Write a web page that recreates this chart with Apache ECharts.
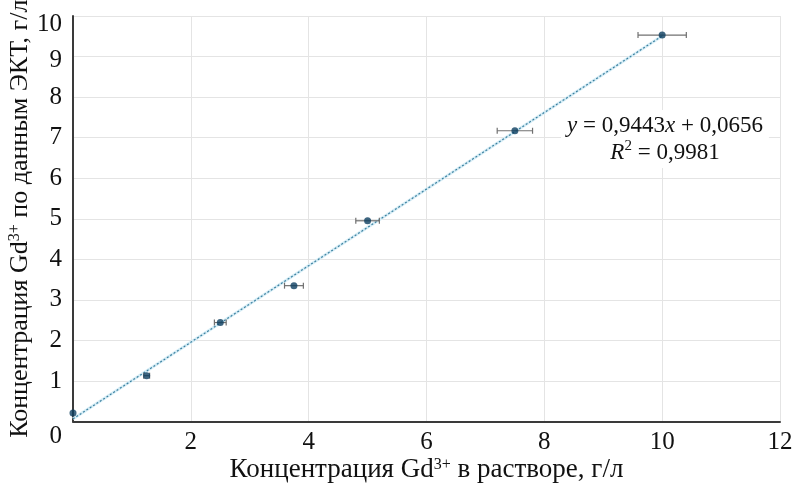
<!DOCTYPE html>
<html>
<head>
<meta charset="utf-8">
<script src="https://cdn.jsdelivr.net/npm/echarts@6/dist/echarts.min.js"></script>
<style>html,body{margin:0;padding:0;background:#fff}#c{width:792px;height:486px}</style>
</head>
<body>
<div id="c"></div>
<script>
// Data
const xValues = [0, 1.25, 2.5, 3.75, 5, 7.5, 10];          // концентрация в растворе, г/л
const yValues = [0.21, 1.13, 2.44, 3.35, 4.95, 7.17, 9.53]; // по данным ЭКТ, г/л
const xErrors = [0.0, 0.05, 0.1, 0.16, 0.2, 0.3, 0.41];     // horizontal error bars
const trendX = [0, 10];
const trendY = [0.0656, 9.5086];
const xTicks = [0, 2, 4, 6, 8, 10, 12];
const yTicks = [0, 1, 2, 3, 4, 5, 6, 7, 8, 9, 10];
const xTitle = 'Концентрация Gd{sup|3+} в растворе, г/л';
const yTitle = 'Концентрация Gd{sup|3+} по данным ЭКТ, г/л';
const eqLine1 = '{i|y} = 0,9443{i|x} + 0,0656';
const eqLine2 = '{i|R}{s|2} = 0,9981';

const FONT = '"Liberation Serif", "Times New Roman", serif';
const chart = echarts.init(document.getElementById('c'), null, {renderer: 'canvas'});

const points = xValues.map((x, i) => [x, yValues[i]]);
const errData = xValues.map((x, i) => [x, yValues[i], xErrors[i]]);
const trend = trendX.map((x, i) => [x, trendY[i]]);

const supRich = {
  sup: {fontFamily: FONT, fontSize: 16, color: '#111', verticalAlign: 'top', lineHeight: 16}
};
const lbl = {fontFamily: FONT, fontSize: 25, color: '#111'};

chart.setOption({
  animation: false,
  backgroundColor: '#fff',
  grid: {left: 73, right: 12, top: 16, bottom: 64.5, containLabel: false, outerBoundsMode: 'none'},
  xAxis: {
    type: 'value', min: xTicks[0], max: xTicks[xTicks.length - 1], interval: 2,
    axisLine: {show: true, onZero: false, lineStyle: {color: '#3a3a3a', width: 2}},
    axisTick: {show: false},
    splitLine: {show: true, lineStyle: {color: '#e4e4e4', width: 1}},
    axisLabel: Object.assign({}, lbl, {
      margin: 8,
      formatter: v => (v === 0 ? '' : String(v))
    }),
    name: xTitle, nameLocation: 'middle', nameGap: 35, nameMoveOverlap: false,
    nameTextStyle: {fontFamily: FONT, fontSize: 27, color: '#111', rich: supRich}
  },
  yAxis: {
    type: 'value', min: yTicks[0], max: yTicks[yTicks.length - 1], interval: 1,
    axisLine: {show: true, onZero: false, lineStyle: {color: '#3a3a3a', width: 2}},
    axisTick: {show: false},
    splitLine: {show: true, lineStyle: {color: '#e4e4e4', width: 1}},
    axisLabel: Object.assign({}, lbl, {
      margin: 11,
      formatter: v => (v === 0 ? '{z|0}' : v === 10 ? '{t|10}' : v === 9 ? '{n|9}' : String(v)),
      rich: {
        z: Object.assign({}, lbl, {padding: [30, 0, 0, 0]}),
        t: Object.assign({}, lbl, {padding: [16, 0, 0, 0]}),
        n: Object.assign({}, lbl, {padding: [8, 0, 0, 0]})
      }
    }),
    name: yTitle, nameLocation: 'middle', nameGap: 40, nameRotate: 90, nameMoveOverlap: false,
    nameTextStyle: {fontFamily: FONT, fontSize: 26, color: '#111', rich: supRich}
  },
  series: [
    {
      type: 'line', data: trend, symbol: 'none', silent: true, z: 1,
      lineStyle: {color: '#d6edf6', width: 3, type: 'solid'}
    },
    {
      type: 'line', data: trend, symbol: 'none', silent: true, z: 2,
      lineStyle: {color: '#3a7f9e', width: 1.2, type: [2, 2]}
    },
    {
      type: 'custom', z: 3, silent: true,
      data: errData,
      renderItem: function (params, api) {
        const x = api.value(0), y = api.value(1), e = api.value(2);
        if (!e) return null;
        const p1 = api.coord([x - e, y]);
        const p2 = api.coord([x + e, y]);
        const c = 3;
        const st = {stroke: '#707070', lineWidth: 1.2};
        return {
          type: 'group',
          children: [
            {type: 'line', shape: {x1: p1[0], y1: p1[1], x2: p2[0], y2: p2[1]}, style: st},
            {type: 'line', shape: {x1: p1[0], y1: p1[1] - c, x2: p1[0], y2: p1[1] + c}, style: st},
            {type: 'line', shape: {x1: p2[0], y1: p2[1] - c, x2: p2[0], y2: p2[1] + c}, style: st}
          ]
        };
      }
    },
    {
      type: 'scatter', data: points, symbol: 'circle', symbolSize: 7, z: 4,
      itemStyle: {color: '#0d3f60'}
    }
  ],
  graphic: [
    {
      type: 'text', x: 665, y: 110, z: 10,
      style: {
        text: eqLine1 + '\n' + eqLine2,
        align: 'center', verticalAlign: 'top',
        fontFamily: FONT, fontSize: 23, lineHeight: 27, fill: '#111',
        backgroundColor: '#fff', padding: [2, 6, 2, 6],
        rich: {
          i: {fontFamily: FONT, fontSize: 23, lineHeight: 27, fontStyle: 'italic', color: '#111'},
          s: {fontFamily: FONT, fontSize: 15, color: '#111', verticalAlign: 'top', lineHeight: 15}
        }
      }
    }
  ]
});
</script>
</body>
</html>
